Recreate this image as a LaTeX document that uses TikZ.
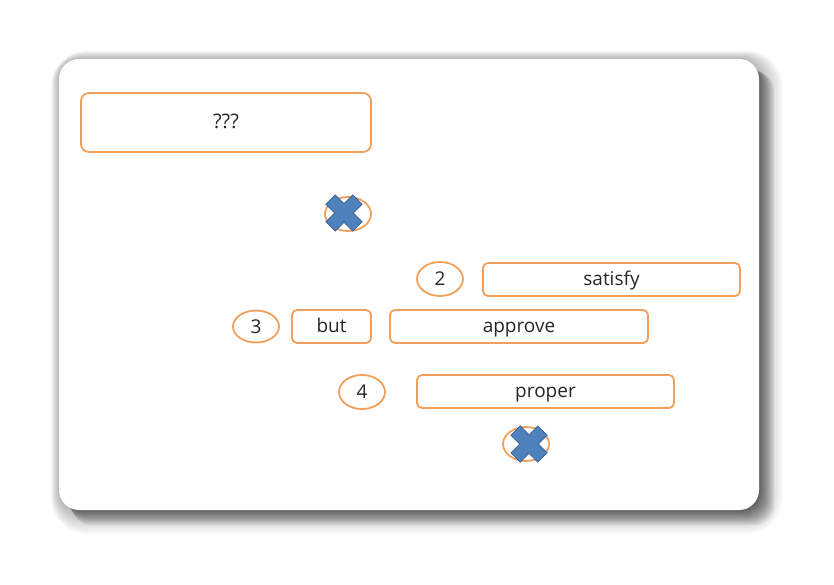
\documentclass[tikz,border=0pt]{standalone}
\usepackage{fontspec}
\setmainfont{Open Sans}
\usetikzlibrary{shapes.geometric}
\definecolor{ora}{HTML}{F0A05A}
\definecolor{xblue}{HTML}{4F81BD}
\definecolor{xedge}{HTML}{3A6296}
\tikzset{
  wordbox/.style={draw=ora, line width=1.8pt, rounded corners=5pt, fill=white, inner sep=0pt, text height=15pt, text depth=3pt, font=\fontsize{19}{22}\selectfont, text=black!85},
  numell/.style={draw=ora, line width=1.8pt, ellipse, fill=white, minimum width=46pt, minimum height=34pt, inner sep=0pt, text height=15pt, text depth=2pt, font=\fontsize{19}{22}\selectfont, text=black!85},
  crossmark/.pic={
    \fill[xblue, draw=xedge, line width=0.8pt, rotate=45]
      (6.5,19) -- (6.5,6.5) -- (19,6.5) -- (19,-6.5) -- (6.5,-6.5) -- (6.5,-19)
      -- (-6.5,-19) -- (-6.5,-6.5) -- (-19,-6.5) -- (-19,6.5) -- (-6.5,6.5) -- (-6.5,19) -- cycle;
  }
}
\begin{document}
\begin{tikzpicture}[x=1pt,y=-1pt]
\useasboundingbox (0,0) rectangle (834,585);
% soft glow all round
\foreach \i in {1,...,16}{
  \fill[black, opacity=0.02, rounded corners={20pt+\i pt}]
    ({59-\i*0.9+\i*0.4},{59-\i*0.9+\i*0.4}) rectangle ({759+\i*1.5},{510+\i*1.5});
}
% darker cast shadow
\foreach \i in {1,...,8}{
  \fill[black, opacity=0.07, rounded corners=20pt]
    ({62+\i*1.2},{62+\i*1.2}) rectangle ({759+\i*1.9},{510+\i*1.9});
}
% card
\node[draw=none, fill=white, rounded corners=20pt, minimum width=700pt, minimum height=451pt, inner sep=0pt] (card) at (409,284.5) {};
% boxes
\node[wordbox, minimum width=290pt, minimum height=59pt, rounded corners=8pt, font=\fontsize{20}{23}\selectfont] (q) at (226,122.5) {???};
\node[numell] (x1) at (348,214) {};
\pic at (344,213) {crossmark};
\node[numell] (n2) at (440,279) {2};
\node[wordbox, minimum width=257pt, minimum height=33pt] (satisfy) at (611.5,279.5) {satisfy};
\node[numell, minimum height=32pt] (n3) at (256,326.5) {3};
\node[wordbox, minimum width=79pt, minimum height=33pt] (but) at (331.5,326.5) {but};
\node[wordbox, minimum width=258pt, minimum height=33pt] (approve) at (519,326.5) {approve};
\node[numell] (n4) at (362,392) {4};
\node[wordbox, minimum width=257pt, minimum height=33pt] (proper) at (545.5,391.5) {proper};
\node[numell] (x2) at (526,444) {};
\pic at (529,444) {crossmark};
\end{tikzpicture}
\end{document}
